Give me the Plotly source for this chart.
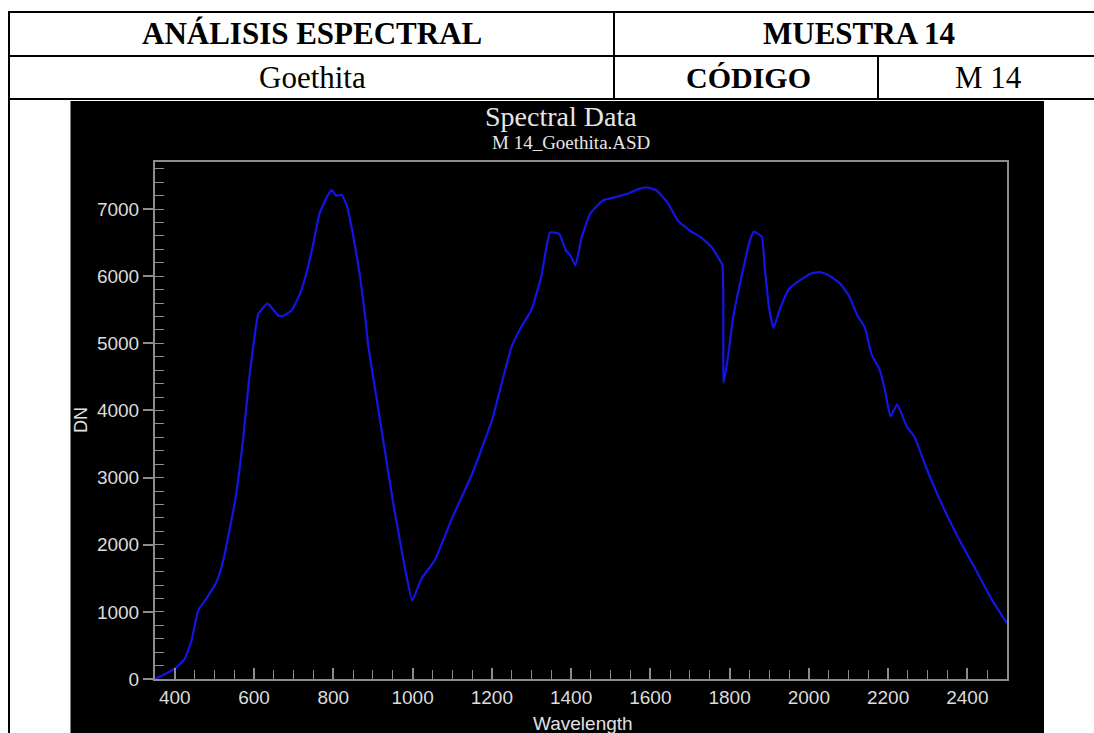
import plotly.graph_objects as go

# Espectro de la muestra M 14 (Goethita)
wavelength = [350, 375, 400, 425, 442, 459, 480, 505, 522, 552, 572, 587, 598, 611,
              634, 662, 674, 695, 716, 733, 750, 765, 784, 796, 807, 821, 834, 850,
              867, 880, 888, 918, 950, 977, 999, 1022, 1056, 1100, 1150, 1200, 1250,
              1275, 1300, 1325, 1347, 1370, 1387, 1398, 1411, 1426, 1448, 1481, 1515,
              1543, 1571, 1593, 1615, 1643, 1669, 1699, 1727, 1755, 1771, 1782, 1785,
              1796, 1809, 1827, 1850, 1861, 1881, 1889, 1900, 1911, 1927, 1950, 1978,
              2006, 2028, 2051, 2079, 2101, 2123, 2141, 2158, 2179, 2192, 2206, 2223,
              2246, 2267, 2296, 2339, 2381, 2423, 2461, 2500]
dn = [0, 70, 153, 300, 570, 1020, 1200, 1440, 1760, 2650, 3550, 4440, 4960, 5440,
      5590, 5410, 5410, 5490, 5740, 6060, 6500, 6930, 7180, 7280, 7200, 7210, 7050, 6610,
      6010, 5420, 4970, 3850, 2660, 1770, 1170, 1490, 1770, 2400, 3050, 3850, 4950,
      5250, 5500, 6000, 6650, 6630, 6380, 6310, 6160, 6560, 6930, 7130, 7180,
      7230, 7300, 7320, 7280, 7100, 6830, 6680, 6580, 6430, 6280, 6160, 4410,
      4800, 5390, 5910, 6510, 6660, 6590, 6110, 5510, 5230, 5510, 5810, 5940,
      6040, 6060, 6010, 5890, 5710, 5410, 5240, 4840, 4600, 4300, 3910, 4090,
      3770, 3600, 3150, 2560, 2060, 1610, 1190, 830]

header_left = "ANÁLISIS ESPECTRAL"
header_right = "MUESTRA 14"
mineral = "Goethita"
code_label = "CÓDIGO"
code_value = "M 14"

W, H = 1094, 733
PL, PR, PT, PB = 155, 1007, 162, 679


def px(x):
    # pixel -> coordenada paper en x
    return (x - PL) / (PR - PL)


def py(y):
    # pixel -> coordenada paper en y
    return (PB - y) / (PB - PT)


fig = go.Figure()

fig.add_trace(go.Scatter(
    x=wavelength,
    y=dn,
    mode='lines',
    line=dict(color='#1414e6', width=2.2, shape='spline', smoothing=0.4),
    showlegend=False
))

shapes = []
# fondo negro de la captura
shapes.append(dict(type='rect', xref='paper', yref='paper', layer='below',
                   x0=px(70.5), x1=px(1044), y0=py(740), y1=py(101),
                   fillcolor='black', line=dict(width=0)))

# lineas de la tabla
tbl = dict(color='black', width=2)
for y in [12, 56, 99]:
    shapes.append(dict(type='line', xref='paper', yref='paper',
                       x0=px(8), x1=px(1100), y0=py(y), y1=py(y), line=tbl))
shapes.append(dict(type='line', xref='paper', yref='paper',
                   x0=px(9), x1=px(9), y0=py(11), y1=py(740), line=tbl))
shapes.append(dict(type='line', xref='paper', yref='paper',
                   x0=px(614), x1=px(614), y0=py(11), y1=py(99), line=tbl))
shapes.append(dict(type='line', xref='paper', yref='paper',
                   x0=px(878), x1=px(878), y0=py(56), y1=py(99), line=tbl))

serif = "Liberation Serif"
sans = "Liberation Sans"


def ann(text, x, y, size, color='black', family=serif, bold=False, angle=0):
    if bold:
        text = '<b>' + text + '</b>'
    return dict(text=text, x=px(x), y=py(y), xref='paper', yref='paper',
                xanchor='center', yanchor='middle', showarrow=False,
                textangle=angle, font=dict(family=family, size=size, color=color))


annotations = [
    ann(header_left, 312, 33, 31, bold=True),
    ann(header_right, 859, 33, 31, bold=True),
    ann(mineral, 312, 77, 31),
    ann(code_label, 748, 77, 30, bold=True),
    ann(code_value, 988, 77, 31),
    ann("Spectral Data", 561, 117, 28, color='#e6e6e6'),
    ann("M 14_Goethita.ASD", 571, 143, 19, color='#e6e6e6'),
    ann("Wavelength", 583, 723, 19, color='#e0e0e0', family=sans),
    ann("DN", 81, 420, 18, color='#e0e0e0', family=sans, angle=-90),
]

fig.update_layout(
    width=W,
    height=H,
    margin=dict(l=PL, r=W - PR, t=PT, b=H - PB),
    paper_bgcolor='white',
    plot_bgcolor='black',
    shapes=shapes,
    annotations=annotations,
    font=dict(family=sans, size=19, color='#dcdcdc')
)

fig.update_xaxes(
    range=[350, 2500],
    tickmode='linear', tick0=400, dtick=200,
    ticks='inside', ticklen=11, tickcolor='#8c8c8c', tickwidth=2,
    minor=dict(dtick=50, ticks='inside', ticklen=9, tickcolor='#8c8c8c', tickwidth=1),
    showgrid=False, zeroline=False,
    showline=True, linecolor='#8c8c8c', linewidth=2, mirror=True,
    tickfont=dict(family=sans, size=19, color='#dcdcdc')
)

fig.update_yaxes(
    range=[0, 7700],
    tickmode='linear', tick0=0, dtick=1000,
    ticks='outside', ticklen=10, tickcolor='#8c8c8c', tickwidth=2,
    minor=dict(dtick=200, ticks='inside', ticklen=9, tickcolor='#8c8c8c', tickwidth=1),
    showgrid=False, zeroline=False,
    showline=True, linecolor='#8c8c8c', linewidth=2, mirror=True,
    tickfont=dict(family=sans, size=19, color='#dcdcdc')
)

# quitar el margen por defecto del body para que la figura empiece en 0,0
fig.write_html("out.html", config={'displayModeBar': False},
               post_script="document.body.style.margin='0';")
